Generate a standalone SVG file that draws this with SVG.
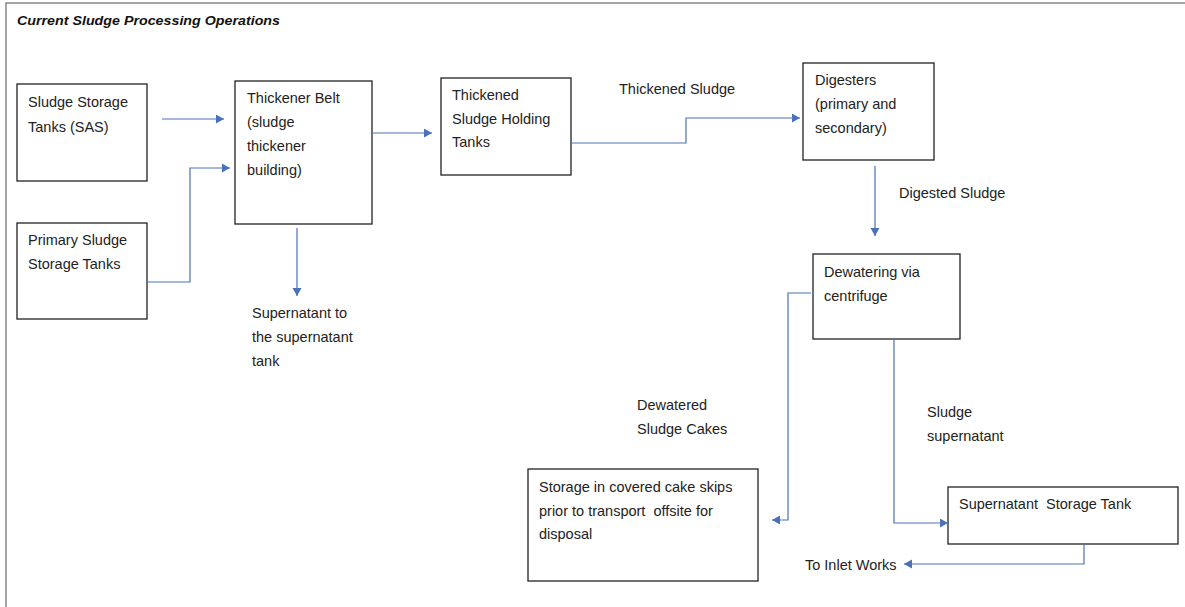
<svg xmlns="http://www.w3.org/2000/svg" width="1185" height="607" viewBox="0 0 1185 607">
<style>
.box{fill:#fff;stroke:#222;stroke-width:1.3}
.t{font-family:"Liberation Sans",Arial,sans-serif;font-size:14.5px;fill:#222}
.title{font-family:"Liberation Sans",Arial,sans-serif;font-size:13.5px;font-weight:bold;font-style:italic;fill:#111}
.c{fill:none;stroke:#4a72b8;stroke-width:1.2}
.frame{stroke:#888;stroke-width:1.5;fill:none}
</style>
<defs>
<marker id="ah" markerUnits="userSpaceOnUse" markerWidth="10" markerHeight="10" refX="8" refY="4.5" orient="auto">
<path d="M0,0 L8,4.5 L0,9 z" fill="#4a72b8"/>
</marker>
</defs>
<rect width="1185" height="607" fill="#fff"/>
<path class="frame" d="M6,607 V3 H1185"/>
<text class="title" x="17" y="25" textLength="263" lengthAdjust="spacingAndGlyphs">Current Sludge Processing Operations</text>

<g id="n-sas"><rect class="box" x="17" y="84" width="130" height="97"/>
<text class="t" x="28" y="107">Sludge Storage</text><text class="t" x="28" y="132">Tanks (SAS)</text></g>

<g id="n-primary"><rect class="box" x="17" y="223" width="130" height="96"/>
<text class="t" x="28" y="245">Primary Sludge</text><text class="t" x="28" y="269">Storage Tanks</text></g>

<g id="n-thickener"><rect class="box" x="235" y="81" width="137" height="143"/>
<text class="t" x="247" y="103">Thickener Belt</text><text class="t" x="247" y="127">(sludge</text><text class="t" x="247" y="151">thickener</text><text class="t" x="247" y="175">building)</text></g>

<g id="n-holding"><rect class="box" x="441" y="78" width="130" height="97"/>
<text class="t" x="452" y="100">Thickened</text><text class="t" x="452" y="124">Sludge Holding</text><text class="t" x="452" y="147">Tanks</text></g>

<g id="n-digesters"><rect class="box" x="803" y="63" width="131" height="97"/>
<text class="t" x="815" y="85">Digesters</text><text class="t" x="815" y="109">(primary and</text><text class="t" x="815" y="133">secondary)</text></g>

<g id="n-dewatering"><rect class="box" x="813" y="254" width="147" height="85"/>
<text class="t" x="824" y="277">Dewatering via</text><text class="t" x="824" y="301">centrifuge</text></g>

<g id="n-storage"><rect class="box" x="528" y="469" width="230" height="112"/>
<text class="t" x="539" y="492">Storage in covered cake skips</text><text class="t" x="539" y="516" xml:space="preserve">prior to transport  offsite for</text><text class="t" x="539" y="539">disposal</text></g>

<g id="n-supertank"><rect class="box" x="948" y="487" width="230" height="57"/>
<text class="t" x="959" y="509" xml:space="preserve">Supernatant  Storage Tank</text></g>

<g id="labels">
<text class="t" x="252" y="318">Supernatant to</text><text class="t" x="252" y="342">the supernatant</text><text class="t" x="252" y="366">tank</text>
<text class="t" x="619" y="94">Thickened Sludge</text>
<text class="t" x="899" y="198">Digested Sludge</text>
<text class="t" x="637" y="410">Dewatered</text><text class="t" x="637" y="434">Sludge Cakes</text>
<text class="t" x="927" y="417">Sludge</text><text class="t" x="927" y="441">supernatant</text>
<text class="t" x="805" y="570">To Inlet Works</text>
</g>

<g id="connectors">
<path class="c" d="M162,119 H224" marker-end="url(#ah)"/>
<path class="c" d="M148,282 H190 V168 H230" marker-end="url(#ah)"/>
<path class="c" d="M297,228 V296" marker-end="url(#ah)"/>
<path class="c" d="M373,133 H432" marker-end="url(#ah)"/>
<path class="c" d="M572,143 H686 V118 H800" marker-end="url(#ah)"/>
<path class="c" d="M875,166 V236" marker-end="url(#ah)"/>
<path class="c" d="M811,293 H788 V520 H772" marker-end="url(#ah)"/>
<path class="c" d="M894,340 V523 H948" marker-end="url(#ah)"/>
<path class="c" d="M1084,545 V564 H904" marker-end="url(#ah)"/>
</g>
</svg>
